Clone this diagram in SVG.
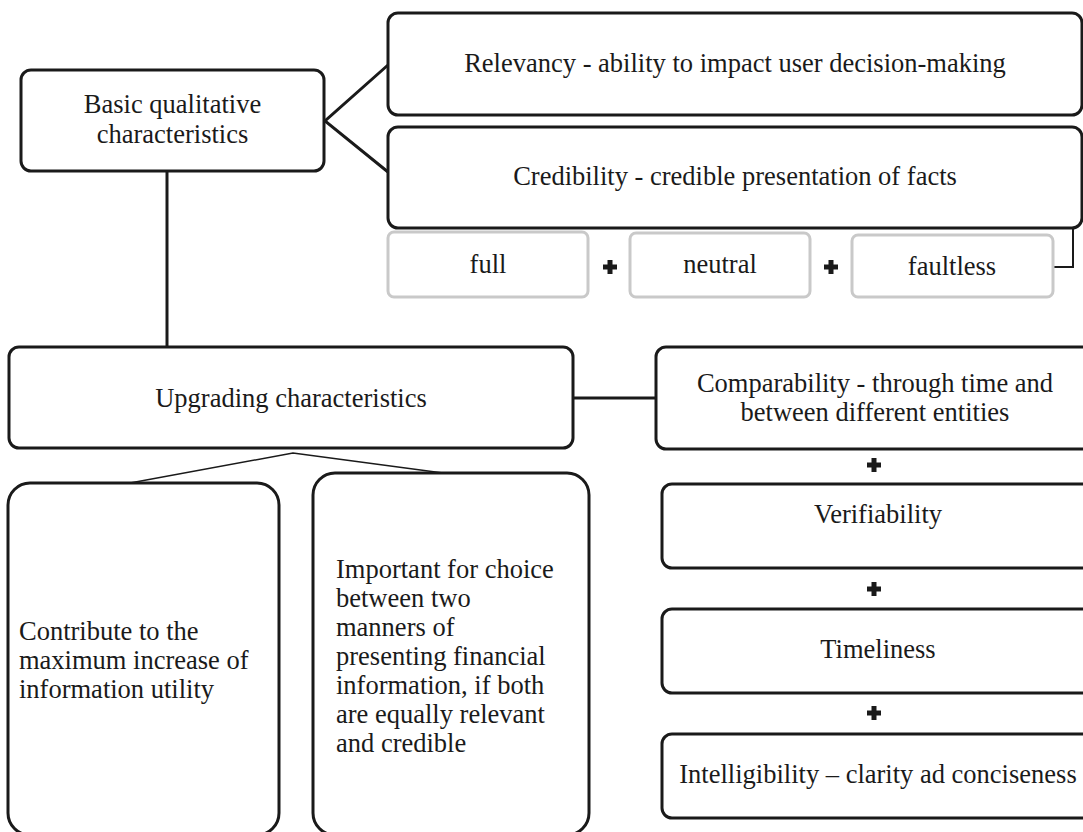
<svg xmlns="http://www.w3.org/2000/svg" width="1083" height="832" viewBox="0 0 1083 832">
<style>
.box{fill:#fff;stroke:#1a1a1a;stroke-width:3}
.gbox{fill:#fff;stroke:#c9c9c9;stroke-width:3}
.t{font-family:"Liberation Serif","Times New Roman",serif;font-size:26.5px;fill:#1a1a1a}
.c{text-anchor:middle}
.conn{stroke:#1a1a1a;stroke-width:3;fill:none}
.thin{stroke:#1a1a1a;stroke-width:1.5;fill:none}
.plus{fill:#1a1a1a}
</style>
<defs>
<path id="plus" d="M-2.5,-7 H2.5 V-2.5 H7 V2.5 H2.5 V7 H-2.5 V2.5 H-7 V-2.5 H-2.5 Z"/>
</defs>
<rect width="1083" height="832" fill="#fff"/>
<g id="connectors">
<path class="conn" d="M388,65 L325,121 L388,172"/>
<path class="conn" d="M167,171 V347"/>
<path class="conn" d="M573,398 H657"/>
<path class="conn" d="M1053,267 H1073 V228" style="stroke-width:2"/>
<path class="thin" d="M130,483 L293,453 L443,473"/>
</g>
<g id="basic">
<rect class="box" x="21" y="70" width="303" height="101" rx="10"/>
<text class="t c" x="172.5" y="113">Basic qualitative</text>
<text class="t c" x="172.5" y="143">characteristics</text>
</g>
<g id="relevancy">
<rect class="box" x="388" y="13" width="694" height="102" rx="10"/>
<text class="t c" x="735" y="72">Relevancy - ability to impact user decision-making</text>
</g>
<g id="credibility">
<rect class="box" x="388" y="127" width="694" height="101" rx="10"/>
<text class="t c" x="735" y="185">Credibility - credible presentation of facts</text>
</g>
<g id="full">
<rect class="gbox" x="388" y="232" width="200" height="65" rx="6"/>
<text class="t c" x="488" y="273">full</text>
</g>
<use href="#plus" class="plus" x="610" y="267"/>
<g id="neutral">
<rect class="gbox" x="630" y="233" width="180" height="64" rx="6"/>
<text class="t c" x="720" y="273">neutral</text>
</g>
<use href="#plus" class="plus" x="831" y="267"/>
<g id="faultless">
<rect class="gbox" x="852" y="235" width="201" height="62" rx="6"/>
<text class="t c" x="952" y="275">faultless</text>
</g>
<g id="upgrading">
<rect class="box" x="9" y="347" width="564" height="101" rx="10"/>
<text class="t c" x="291" y="407">Upgrading characteristics</text>
</g>
<g id="comparability">
<rect class="box" x="656" y="347" width="440" height="102" rx="10"/>
<text class="t c" x="875" y="392">Comparability - through time and</text>
<text class="t c" x="875" y="421">between different entities</text>
</g>
<use href="#plus" class="plus" x="874" y="465"/>
<g id="verifiability">
<rect class="box" x="662" y="484" width="440" height="84" rx="10"/>
<text class="t c" x="878" y="523">Verifiability</text>
</g>
<use href="#plus" class="plus" x="874" y="589"/>
<g id="timeliness">
<rect class="box" x="662" y="609" width="440" height="84" rx="10"/>
<text class="t c" x="878" y="658">Timeliness</text>
</g>
<use href="#plus" class="plus" x="874" y="713"/>
<g id="intelligibility">
<rect class="box" x="662" y="734" width="440" height="84" rx="10"/>
<text class="t c" x="878" y="783">Intelligibility – clarity ad conciseness</text>
</g>
<g id="contribute">
<rect class="box" x="8" y="483" width="271" height="352" rx="22"/>
<text class="t" x="19" y="640">Contribute to the</text>
<text class="t" x="19" y="669">maximum increase of</text>
<text class="t" x="19" y="698">information utility</text>
</g>
<g id="important">
<rect class="box" x="313" y="473" width="276" height="362" rx="22"/>
<text class="t" x="336" y="578">Important for choice</text>
<text class="t" x="336" y="607">between two</text>
<text class="t" x="336" y="636">manners of</text>
<text class="t" x="336" y="665">presenting financial</text>
<text class="t" x="336" y="694">information, if both</text>
<text class="t" x="336" y="723">are equally relevant</text>
<text class="t" x="336" y="752">and credible</text>
</g>
</svg>
